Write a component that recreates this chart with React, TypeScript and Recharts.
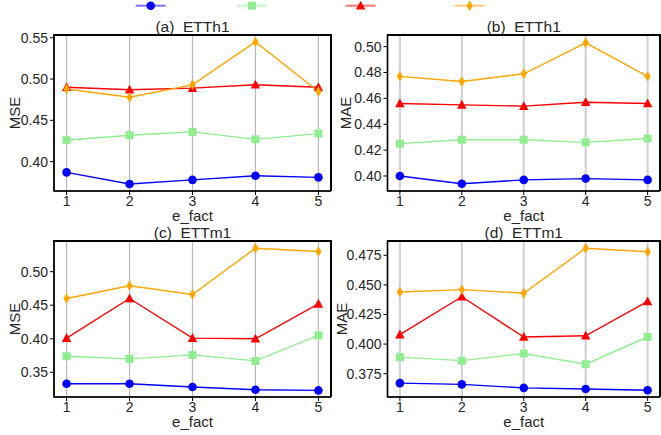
import React from 'react';
import { LineChart, Line, XAxis, YAxis, CartesianGrid, ReferenceArea } from 'recharts';

// x values shared by all four panels
const eFact = [1, 2, 3, 4, 5];

// (a) ETTh1 - MSE
const etth1MseBlue = [0.387, 0.373, 0.378, 0.383, 0.381];
const etth1MseGreen = [0.426, 0.432, 0.436, 0.427, 0.434];
const etth1MseRed = [0.49, 0.487, 0.489, 0.493, 0.49];
const etth1MseOrange = [0.488, 0.478, 0.493, 0.545, 0.485];

// (b) ETTh1 - MAE
const etth1MaeBlue = [0.4, 0.394, 0.397, 0.398, 0.397];
const etth1MaeGreen = [0.425, 0.428, 0.428, 0.426, 0.429];
const etth1MaeRed = [0.456, 0.455, 0.454, 0.457, 0.456];
const etth1MaeOrange = [0.477, 0.473, 0.479, 0.503, 0.477];

// (c) ETTm1 - MSE
const ettm1MseBlue = [0.333, 0.333, 0.328, 0.324, 0.323];
const ettm1MseGreen = [0.374, 0.37, 0.376, 0.367, 0.405];
const ettm1MseRed = [0.401, 0.46, 0.401, 0.4, 0.452];
const ettm1MseOrange = [0.46, 0.479, 0.466, 0.535, 0.53];

// (d) ETTm1 - MAE
const ettm1MaeBlue = [0.367, 0.366, 0.363, 0.362, 0.361];
const ettm1MaeGreen = [0.389, 0.386, 0.392, 0.383, 0.406];
const ettm1MaeRed = [0.408, 0.44, 0.406, 0.407, 0.436];
const ettm1MaeOrange = [0.444, 0.446, 0.443, 0.481, 0.478];

// axis ticks
const xTicks = [1, 2, 3, 4, 5];
const xDomain: [number, number] = [0.8, 5.2];
const yTicksA = [0.4, 0.45, 0.5, 0.55];
const yTicksB = [0.4, 0.42, 0.44, 0.46, 0.48, 0.5];
const yTicksC = [0.35, 0.4, 0.45, 0.5];
const yTicksD = [0.375, 0.4, 0.425, 0.45, 0.475];

const seriesKeys = ['blue', 'green', 'red', 'orange'];
const seriesColors: Record<string, string> = {
  blue: '#0000ff',
  green: '#90ee90',
  red: '#ff0000',
  orange: '#ffa500',
};

const FONT = '"Liberation Sans", Arial, sans-serif';
const TEXT = '#262626';

const buildRows = (b: number[], g: number[], r: number[], o: number[]) =>
  eFact.map((x, i) => ({ x, blue: b[i], green: g[i], red: r[i], orange: o[i] }));

const dataA = buildRows(etth1MseBlue, etth1MseGreen, etth1MseRed, etth1MseOrange);
const dataB = buildRows(etth1MaeBlue, etth1MaeGreen, etth1MaeRed, etth1MaeOrange);
const dataC = buildRows(ettm1MseBlue, ettm1MseGreen, ettm1MseRed, ettm1MseOrange);
const dataD = buildRows(ettm1MaeBlue, ettm1MaeGreen, ettm1MaeRed, ettm1MaeOrange);

const Marker = ({ kind, cx, cy }: { kind: string; cx: number; cy: number }) => {
  const c = seriesColors[kind];
  if (kind === 'blue') return <circle cx={cx} cy={cy} r={4.3} fill={c} />;
  if (kind === 'green')
    return <rect x={cx - 4} y={cy - 4} width={8} height={8} fill={c} />;
  if (kind === 'red')
    return (
      <polygon
        points={`${cx},${cy - 5} ${cx + 4.7},${cy + 3.8} ${cx - 4.7},${cy + 3.8}`}
        fill={c}
      />
    );
  return (
    <polygon
      points={`${cx},${cy - 5.2} ${cx + 3.2},${cy} ${cx},${cy + 5.2} ${cx - 3.2},${cy}`}
      fill={c}
    />
  );
};

const dotFor = (kind: string) => (p: any) => (
  <Marker key={`${kind}-${p.index}`} kind={kind} cx={p.cx} cy={p.cy} />
);

interface PanelProps {
  left: number;
  top: number;
  width: number;
  yAxisWidth: number;
  data: any[];
  domain: [number, number];
  ticks: number[];
  digits: number;
  yLabel: string;
  yLabelOffset: number;
  title: string;
  gridColor: string;
  gridWidth: number;
}

const PLOT_TOP = 35;
const PLOT_HEIGHT = 156;
const X_AXIS_HEIGHT = 38;

const Panel: React.FC<PanelProps> = (p) => {
  const height = PLOT_TOP + PLOT_HEIGHT + X_AXIS_HEIGHT;
  const plotWidth = p.width - p.yAxisWidth;
  const plotLeft = p.left + p.yAxisWidth;
  const plotTop = p.top + PLOT_TOP;
  return (
    <>
      <div style={{ position: 'absolute', left: p.left, top: p.top }}>
        <LineChart
          width={p.width}
          height={height}
          data={p.data}
          margin={{ top: PLOT_TOP, right: 0, bottom: 0, left: 0 }}
        >
          <CartesianGrid
            horizontal={false}
            stroke={p.gridColor}
            strokeWidth={p.gridWidth}
          />
          <XAxis
            dataKey="x"
            type="number"
            domain={xDomain}
            ticks={xTicks}
            height={X_AXIS_HEIGHT}
            tickSize={4}
            tickMargin={1}
            stroke="#000"
            tick={{ fill: TEXT, fontSize: 14, fontFamily: FONT }}
            label={{
              value: 'e_fact',
              position: 'insideBottom',
              offset: 8,
              style: { fill: TEXT, fontSize: 15, fontFamily: FONT },
            }}
          />
          <YAxis
            type="number"
            domain={p.domain}
            ticks={p.ticks}
            width={p.yAxisWidth}
            tickSize={4}
            tickMargin={2}
            stroke="#000"
            tickFormatter={(v: number) => v.toFixed(p.digits)}
            tick={{ fill: TEXT, fontSize: 14, fontFamily: FONT }}
            label={{
              value: p.yLabel,
              angle: -90,
              position: 'insideLeft',
              offset: p.yLabelOffset,
              style: { fill: TEXT, fontSize: 15, fontFamily: FONT, textAnchor: 'middle' },
            }}
          />
          {/* plot frame */}
          <ReferenceArea
            x1={xDomain[0]}
            x2={xDomain[1]}
            y1={p.domain[0]}
            y2={p.domain[1]}
            fill="none"
            fillOpacity={0}
            stroke="#000"
            strokeWidth={1.5}
            strokeOpacity={1}
            ifOverflow="visible"
          />
          {seriesKeys.map((k) => (
            <Line
              key={k}
              dataKey={k}
              stroke={seriesColors[k]}
              strokeWidth={1.4}
              dot={dotFor(k)}
              activeDot={false}
              isAnimationActive={false}
            />
          ))}
        </LineChart>
      </div>
      {/* top and right edges of the plot frame */}
      <div
        style={{
          position: 'absolute',
          left: plotLeft - 1,
          top: plotTop - 1,
          width: plotWidth + 1,
          height: 1.5,
          background: '#000',
        }}
      />
      <div
        style={{
          position: 'absolute',
          left: plotLeft + plotWidth - 1,
          top: plotTop - 1,
          width: 1.5,
          height: PLOT_HEIGHT + 1,
          background: '#000',
        }}
      />
      <div
        style={{
          position: 'absolute',
          left: plotLeft,
          top: p.top + 18,
          width: plotWidth,
          textAlign: 'center',
          fontFamily: FONT,
          fontSize: 15.5,
          color: TEXT,
          lineHeight: '17px',
          whiteSpace: 'pre',
        }}
      >
        {p.title}
      </div>
    </>
  );
};

const legendCenters = [150.7, 252, 360.7, 469.7];

const TopLegend = () => (
  <svg width={661} height={14} style={{ position: 'absolute', left: 0, top: 0 }}>
    {seriesKeys.map((k, i) => (
      <g key={k}>
        <line
          x1={legendCenters[i] - 15}
          x2={legendCenters[i] + 15}
          y1={5.7}
          y2={5.7}
          stroke={seriesColors[k]}
          strokeOpacity={0.55}
          strokeWidth={2}
        />
        <Marker kind={k} cx={legendCenters[i]} cy={5.7} />
      </g>
    ))}
  </svg>
);

export default function App() {
  return (
    <div
      style={{
        position: 'absolute',
        left: 0,
        top: 0,
        width: 661,
        height: 435,
        background: '#fff',
      }}
    >
      <TopLegend />
      <Panel
        left={0}
        top={0}
        width={331}
        yAxisWidth={54}
        data={dataA}
        domain={[0.3645, 0.5533]}
        ticks={yTicksA}
        digits={2}
        yLabel="MSE"
        yLabelOffset={15}
        title="(a)  ETTh1"
        gridColor="#b8b8b8"
        gridWidth={1.2}
      />
      <Panel
        left={332}
        top={0}
        width={328}
        yAxisWidth={55.5}
        data={dataB}
        domain={[0.3884, 0.509]}
        ticks={yTicksB}
        digits={2}
        yLabel="MAE"
        yLabelOffset={14}
        title="(b)  ETTh1"
        gridColor="#d3d3d3"
        gridWidth={2.2}
      />
      <Panel
        left={0}
        top={206}
        width={331}
        yAxisWidth={54}
        data={dataC}
        domain={[0.3132, 0.5457]}
        ticks={yTicksC}
        digits={2}
        yLabel="MSE"
        yLabelOffset={15}
        title="(c)  ETTm1"
        gridColor="#b8b8b8"
        gridWidth={1.2}
      />
      <Panel
        left={332}
        top={206}
        width={328}
        yAxisWidth={55.5}
        data={dataD}
        domain={[0.3553, 0.4871]}
        ticks={yTicksD}
        digits={3}
        yLabel="MAE"
        yLabelOffset={10}
        title="(d)  ETTm1"
        gridColor="#d3d3d3"
        gridWidth={2.2}
      />
    </div>
  );
}
